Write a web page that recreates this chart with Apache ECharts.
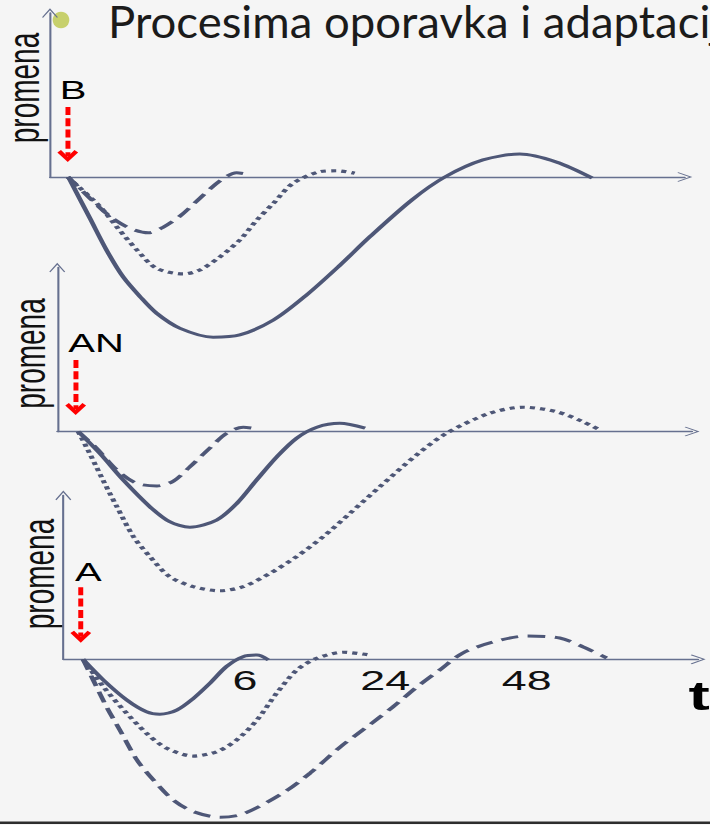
<!DOCTYPE html>
<html><head><meta charset="utf-8">
<script src="https://cdn.jsdelivr.net/npm/echarts@6/dist/echarts.min.js"></script>
<style>
html,body{margin:0;padding:0;width:710px;height:825px;overflow:hidden;background:#f5f5f5;}
#chart{width:444px;height:825px;transform:scaleX(1.5991);transform-origin:0 0;}
</style></head><body><div id="chart"></div>
<script>
// The original slide shows a chart picture stretched horizontally (≈1.6x); the chart is drawn
// at 444px wide and stretched with CSS, texts that are not stretched get an inverse scale.
const S = 710 / 444;

const titleText = 'Procesima oporavka i adaptacije';
const yName = 'promena';
const panelNames = ['B', 'AN', 'A'];
const xName = 't';

// bottom time axis ticks (positions in axis units 0..100)
const tickValues = [28.6, 50.7, 73.0];
const tickLabels = ['6', '24', '48'];

// red stimulus arrows per panel (x, from y, to y) in axis units
const stimulusX = [2.8, 2.9, 2.75];
const arrowFrom = [42.7, 43.6, 43.9];
const arrowTo = [12.8, 13.7, 13.8];

// Panel B
const bSolid = [[2.9,0],[6.3,-25.2],[8.9,-44.5],[11.5,-60.8],[14.2,-73.0],[16.8,-83.1],[20.5,-92.3],[25.7,-97.7],[29.9,-96.3],[35.2,-87.2],[40.4,-72.0],[45.7,-53.7],[50.4,-36.4],[57.0,-14.0],[62.2,0],[68.2,10.4],[74.0,14.0],[79.8,9.1],[85.4,-0.6]];
const bDotted = [[2.8,0],[7.9,-18.1],[10.5,-30.3],[13.7,-44.5],[16.8,-55.7],[21.0,-59.1],[23.6,-56.7],[26.8,-48.6],[29.9,-38.4],[32.6,-26.2],[35.2,-16.0],[38.3,-3.8],[42.5,3.2],[45.1,3.8],[48.0,2.3]];
const bDashed = [[2.9,0],[6.3,-13.0],[9.4,-23.8],[12.6,-31.3],[15.5,-34.0],[17.8,-30.7],[20.5,-23.8],[23.6,-13.0],[26.8,-2.3],[29.4,2.6],[31.0,1.8]];

// Panel AN
const anSolid = [[3.3,0],[6.7,-13.3],[10.4,-29.6],[14.6,-45.9],[17.7,-55.0],[20.9,-58.4],[25.1,-54.0],[28.3,-43.8],[31.4,-29.6],[34.6,-15.4],[37.7,-4.1],[40.9,2.6],[44.5,5.0],[48.5,2.0]];
const anDashed = [[3.3,0],[6.2,-10.2],[9.4,-23.5],[12.5,-31.6],[15.7,-33.2],[18.3,-30.2],[20.9,-21.5],[24.0,-10.2],[26.7,-1.1],[29.3,2.6],[31.4,1.7]];
const anDotted = [[3.3,0],[5.1,-13.3],[7.2,-29.6],[9.4,-45.9],[12.0,-64.1],[14.6,-76.3],[17.7,-88.5],[21.4,-94.6],[25.6,-97.1],[29.3,-94.6],[33.5,-86.5],[37.7,-76.3],[41.9,-64.1],[46.1,-49.9],[50.8,-33.7],[56.6,-14.3],[61.3,-1.1],[68.1,11.1],[73.4,14.8],[78.6,12.1],[82.8,6.0],[85.5,0.9]];

// Panel A
const aSolid = [[3.1,0],[6.3,-12.6],[10.0,-24.8],[13.1,-32.0],[15.2,-33.5],[17.9,-30.9],[20.5,-23.8],[23.1,-14.6],[25.7,-4.4],[28.3,1.6],[30.5,2.6],[32.3,-0.4]];
const aDotted = [[3.1,0],[6.3,-16.7],[9.5,-30.9],[13.1,-45.1],[16.3,-54.3],[20.5,-59.0],[24.2,-56.3],[27.3,-49.2],[30.5,-37.0],[33.6,-20.7],[36.8,-6.5],[39.9,0.6],[44.1,4.3],[48.3,2.6]];
const aDashed = [[3.1,0],[4.7,-12.6],[6.8,-28.9],[8.9,-43.1],[11.6,-61.4],[14.2,-73.6],[17.3,-85.8],[20.5,-92.9],[24.7,-96.3],[28.3,-94.3],[34.6,-81.5],[38.9,-69.3],[43.6,-53.5],[47.8,-41.3],[51.9,-29.1],[55.7,-16.9],[59.3,-6.5],[62.9,3.8],[67.7,10.5],[73.0,14.2],[78.2,13.0],[81.9,7.5],[85.6,0.8]];

const CURVE = '#4e5777';
const AXIS = '#66708f';
const axisArrow = 'path://M10,0 L20,18 L18.6,19.4 L10,4 L1.4,19.4 L0,18 Z';
const redArrow = 'path://M10,0 L20,12 L16.5,15 L10,7 L3.5,15 L0,12 Z';
const styles = {
  solid: 'solid',
  dashed: [11, 6],
  dotted: [3.2, 3.2]
};

const grids = [
  {left: 31.25, top: 13, width: 397, height: 164},
  {left: 35.8, top: 267.5, width: 397, height: 164},
  {left: 39.6, top: 495.3, width: 397, height: 164}
];

const xAxes = grids.map((g, i) => ({
  type: 'value', gridIndex: i, min: 0, max: 100,
  splitLine: {show: false}, axisTick: {show: false},
  axisLine: {show: true, onZero: true, lineStyle: {color: AXIS, width: 1.3},
    symbol: ['none', axisArrow], symbolSize: [11, 9.4]},
  axisLabel: i === 2 ? {
    show: true, customValues: tickValues, margin: 7,
    fontSize: 28, color: '#111', fontFamily: 'Liberation Sans, Arial, sans-serif',
    formatter: (v) => {
      let best = 0;
      tickValues.forEach((t, k) => { if (Math.abs(t - v) < Math.abs(tickValues[best] - v)) best = k; });
      return tickLabels[best];
    }
  } : {show: false}
}));

const yAxes = grids.map((g, i) => ({
  type: 'value', gridIndex: i, min: 0, max: 100,
  splitLine: {show: false}, axisTick: {show: false}, axisLabel: {show: false},
  axisLine: {show: true, lineStyle: {color: AXIS, width: 1.3},
    symbol: ['none', axisArrow], symbolSize: [10, 10]}
}));

function curve(data, idx, kind, withArrow) {
  const s = {
    type: 'line', xAxisIndex: idx, yAxisIndex: idx, data: data,
    smooth: 0.3, showSymbol: false, symbol: 'none', clip: false, silent: true,
    lineStyle: {color: CURVE, width: kind === 'dotted' ? 3.2 : 3, type: styles[kind]},
    z: 2
  };
  if (withArrow) {
    s.markLine = {
      silent: true, symbol: ['none', redArrow], symbolSize: [13, 12],
      label: {show: false}, animation: false,
      lineStyle: {color: '#ff0000', width: 3.1, type: [8, 3.3], opacity: 1},
      emphasis: {disabled: true},
      data: [[{coord: [stimulusX[idx], arrowFrom[idx]]}, {coord: [stimulusX[idx], arrowTo[idx]]}]]
    };
  }
  return s;
}

const series = [
  curve(bSolid, 0, 'solid', true),
  curve(bDotted, 0, 'dotted'),
  curve(bDashed, 0, 'dashed'),
  curve(anSolid, 1, 'solid', true),
  curve(anDashed, 1, 'dashed'),
  curve(anDotted, 1, 'dotted'),
  curve(aSolid, 2, 'solid', true),
  curve(aDotted, 2, 'dotted'),
  curve(aDashed, 2, 'dashed')
];

const promenaPos = [[14.5, 88], [18.6, 353.5], [23.9, 574]];
const namePos = [[37.4, 90], [42.7, 343], [46.9, 572.5]];

const graphic = [];
graphic.push({type: 'rect', z: -1, shape: {x: 0, y: 821.5, width: 444, height: 2.6}, style: {fill: '#2d2d2d'}});
graphic.push({type: 'circle', x: 61 / S, y: 20, scaleX: 1 / S, shape: {cx: 0, cy: 0, r: 8.3}, style: {fill: '#c7d06c'}});
graphic.push({type: 'text', x: 108 / S, y: 21.5, scaleX: 1.035 / S,
  style: {text: titleText, fill: '#1b1b1b', font: '44px Lato, "Open Sans", sans-serif', textAlign: 'left', textVerticalAlign: 'middle', align: 'left', verticalAlign: 'middle'}});
promenaPos.forEach(p => graphic.push({type: 'text', x: p[0], y: p[1], rotation: Math.PI / 2,
  style: {text: yName, fill: '#111', font: '28px "Liberation Sans", Arial, sans-serif', lineHeight: 18, textAlign: 'center', textVerticalAlign: 'middle', align: 'center', verticalAlign: 'middle'}}));
namePos.forEach((p, i) => graphic.push({type: 'text', x: p[0], y: p[1],
  style: {text: panelNames[i], fill: '#000', font: '25px "Liberation Sans", Arial, sans-serif', textAlign: 'left', textVerticalAlign: 'middle', align: 'left', verticalAlign: 'middle'}}));
graphic.push({type: 'text', x: 430.5, y: 696,
  style: {text: xName, fill: '#000', font: 'bold 40px "Liberation Sans", Arial, sans-serif', textAlign: 'left', textVerticalAlign: 'middle', align: 'left', verticalAlign: 'middle'}});

const chart = echarts.init(document.getElementById('chart'), null, {renderer: 'svg', width: 444, height: 825});
chart.setOption({
  animation: false,
  backgroundColor: '#f5f5f5',
  grid: grids,
  xAxis: xAxes,
  yAxis: yAxes,
  series: series,
  graphic: graphic
});
</script></body></html>
